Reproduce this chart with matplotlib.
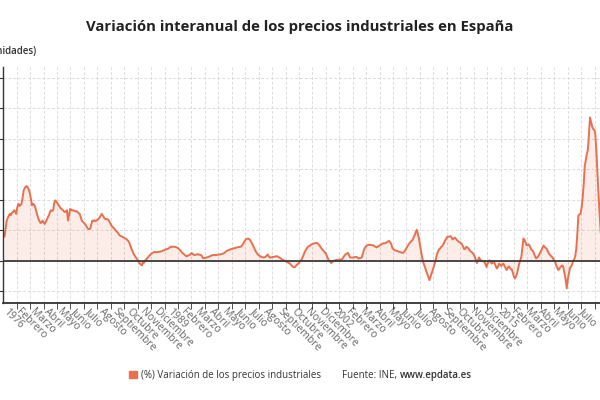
import matplotlib
matplotlib.use("Agg")
import matplotlib.pyplot as plt
from matplotlib.patches import Patch
from matplotlib.transforms import ScaledTranslation
import numpy as np

plt.rcParams['font.family'] = ['Open Sans', 'DejaVu Sans']

title = "Variación interanual de los precios industriales en España"
unit_label = "(unidades)"
series_name = "(%) Variación de los precios industriales"
source_plain = "Fuente: INE, "
source_bold = "www.epdata.es"

start_year = 1976
month_names = ["Enero", "Febrero", "Marzo", "Abril", "Mayo", "Junio", "Julio",
               "Agosto", "Septiembre", "Octubre", "Noviembre", "Diciembre"]

# monthly year-on-year variation (%), from January 1976
pct_1976_1985 = [
    8.0, 10.5, 13.2, 14.0, 14.8, 15.4, 15.0, 15.8, 16.0, 16.6, 16.2, 15.4,
    17.5, 18.7, 18.0, 18.2, 18.7, 20.5, 23.0, 23.8, 24.3, 24.5, 24.0, 23.2,
    22.0, 20.0, 18.2, 18.7, 18.4, 17.6, 16.2, 15.0, 13.8, 13.0, 12.4, 12.6,
    13.2, 12.6, 12.1, 12.8, 13.5, 14.3, 15.0, 16.0, 16.6, 16.4, 16.6, 19.0,
    19.8, 19.4, 18.9, 18.3, 17.8, 17.2, 17.0, 16.7, 16.3, 16.0, 16.2, 16.6,
    13.2, 15.0, 17.0, 16.8, 16.5, 16.6, 16.4, 16.2, 16.3, 16.0, 15.7, 15.4,
    14.4, 13.2, 12.8, 12.5, 12.1, 11.6, 11.0, 10.5, 10.4, 10.5, 11.8, 13.2,
    13.0, 13.3, 13.0, 13.2, 13.5, 13.8, 14.3, 14.8, 15.4, 14.8, 14.2, 13.8,
    13.6, 13.7, 13.5, 13.0, 12.3, 11.6, 11.2, 10.8, 10.5, 10.0, 9.6, 9.3,
    8.8, 8.3, 8.1, 8.0, 7.8, 7.6, 7.4, 7.2, 6.9, 6.5, 6.0, 5.0,
]
pct_1986_1995 = [
    4.0, 3.2, 2.4, 1.8, 1.2, 0.8, 0.2, -0.4, -0.9, -1.2, -1.5, -0.3,
    -0.6, 0.1, 0.5, 0.9, 1.3, 1.7, 2.0, 2.4, 2.6, 2.8, 2.9, 2.9,
    2.8, 2.9, 3.0, 3.0, 3.1, 3.2, 3.4, 3.5, 3.7, 3.8, 3.9, 4.0,
    4.3, 4.6, 4.5, 4.7, 4.6, 4.6, 4.5, 4.4, 4.2, 3.9, 3.5, 3.1,
    2.7, 2.4, 2.1, 1.8, 1.5, 1.6, 1.8, 1.9, 2.2, 2.6, 2.3, 2.0,
    1.9, 2.0, 2.1, 2.2, 2.0, 2.0, 1.9, 1.4, 0.8, 0.9, 1.0, 1.1,
    1.2, 1.3, 1.5, 1.6, 1.8, 1.9, 1.9, 1.9, 1.9, 2.0, 2.0, 2.1,
    2.1, 2.2, 2.3, 2.4, 2.6, 2.9, 3.2, 3.4, 3.5, 3.7, 3.8, 3.9,
    4.0, 4.1, 4.2, 4.3, 4.4, 4.5, 4.5, 4.6, 4.7, 5.2, 5.7, 6.4,
    6.9, 7.2, 7.3, 7.2, 7.0, 6.4, 5.8, 5.1, 4.4, 3.6, 2.9, 2.4,
]
pct_1996_2005 = [
    2.0, 1.7, 1.5, 1.3, 1.2, 1.1, 1.2, 1.3, 1.7, 2.1, 1.5, 1.1,
    1.1, 1.2, 1.3, 1.3, 1.4, 1.5, 1.5, 1.3, 1.1, 0.9, 0.6, 0.4,
    0.2, 0.0, -0.2, -0.3, -0.5, -0.7, -0.9, -1.3, -1.7, -2.0, -2.1, -2.0,
    -1.5, -1.2, -0.9, -0.5, 0.0, 0.4, 1.2, 2.0, 2.9, 3.5, 4.1, 4.6,
    4.8, 5.0, 5.3, 5.5, 5.6, 5.7, 5.8, 5.9, 5.8, 5.4, 5.1, 4.5,
    4.0, 3.6, 3.2, 2.8, 2.4, 1.6, 0.8, 0.0, -0.3, -0.7, -0.4, 0.0,
    0.1, 0.2, 0.3, 0.3, 0.4, 0.4, 0.4, 0.4, 0.9, 1.4, 1.9, 2.2,
    2.4, 2.6, 1.8, 1.1, 1.1, 1.1, 1.1, 1.2, 1.3, 1.3, 1.0, 0.8,
    0.9, 1.0, 1.1, 2.3, 3.5, 4.3, 4.8, 5.0, 5.2, 5.3, 5.2, 5.2,
    5.1, 5.1, 4.8, 4.6, 4.4, 4.6, 4.8, 5.1, 5.3, 5.5, 5.7, 5.8,
]
pct_2006_2015 = [
    5.8, 5.9, 6.2, 6.4, 6.5, 6.0, 5.4, 4.2, 3.8, 3.5, 3.4, 3.3,
    3.2, 3.0, 2.9, 2.8, 2.7, 2.6, 2.9, 3.4, 4.0, 4.6, 5.2, 5.7,
    6.1, 6.5, 6.8, 7.6, 8.4, 9.3, 10.2, 9.0, 7.5, 5.4, 3.3, 1.5,
    -0.3, -1.3, -2.2, -3.3, -4.3, -5.4, -6.3, -5.3, -4.2, -3.2, -2.1, -1.0,
    0.4, 1.8, 3.0, 3.7, 4.0, 4.5, 4.8, 5.3, 6.0, 6.8, 7.3, 7.9,
    7.9, 8.0, 8.1, 7.6, 7.0, 7.3, 7.6, 7.3, 6.8, 6.5, 6.2, 6.0,
    5.8, 5.3, 4.6, 3.8, 4.0, 4.6, 4.4, 4.0, 3.5, 3.1, 2.8, 2.6,
    2.0, 1.3, 0.3, -0.7, 0.2, 1.1, 0.5, 0.0, 0.0, -0.2, -0.3, -1.0,
    -2.0, -1.0, -0.2, 0.2, -0.4, -0.9, -0.6, -0.3, -1.0, -2.0, -2.5, -1.8,
    -0.9, -1.3, -1.7, -1.2, -0.9, -1.6, -2.3, -3.0, -2.4, -1.8, -2.2, -2.7,
]
pct_2016_2023 = [
    -2.8, -4.0, -5.2, -5.8, -5.0, -4.1, -2.5, -0.9, 0.2, 1.3, 4.3, 7.3,
    6.9, 6.0, 5.1, 5.2, 5.4, 4.8, 4.0, 3.5, 3.3, 2.4, 1.5, 0.8,
    1.1, 1.5, 2.1, 2.8, 3.5, 4.3, 5.0, 4.6, 4.2, 4.0, 3.2, 2.5,
    2.0, 1.6, 1.3, 0.8, 0.2, -0.3, -1.5, -2.2, -3.0, -2.6, -2.0, -1.7,
    -1.5, -2.5, -4.5, -6.3, -9.0, -6.0, -4.1, -2.5, -1.8, -1.3, 0.0, 0.5,
    1.5, 4.0, 9.0, 14.9, 15.2, 15.5, 17.5, 20.5, 25.0, 31.0, 33.0, 35.0,
    36.5, 41.5, 47.0, 45.5, 44.0, 43.2, 43.0, 41.6, 36.0, 29.0, 22.0, 16.0,
    10.0, 6.0,
]

values = np.array(pct_1976_1985 + pct_1986_1995 + pct_1996_2005
                  + pct_2006_2015 + pct_2016_2023)
months = np.arange(len(values))

# category labels every 13 months
label_pos = np.arange(0, 547, 13)
label_txt = [str(start_year + p // 12) if p % 12 == 0 else month_names[p % 12]
             for p in label_pos]
# grid / tick mark positions
grid_pos = 11.45 + 12.719 * np.arange(44)

line_color = "#e8704f"
fill_color = "#e8704f"

fig = plt.figure(figsize=(6, 4), dpi=100)
ax = fig.add_axes([3 / 600, (400 - 303.3) / 400, 614.5 / 600, (303.3 - 66.7) / 400])

ax.fill_between(months, values, 0, color=fill_color, alpha=0.12, lw=0)
ax.plot(months, values, color=line_color, lw=1.4, solid_joinstyle='round')
ax.axhline(0, color="#3a3a3a", lw=1.3, zorder=3)

ax.set_xlim(-1.5, 580)
ax.set_ylim(-13.9, 63.6)

ax.set_yticks(np.arange(-10, 61, 10))
ax.tick_params(axis='y', length=4, color="#333333", labelleft=False)
ax.grid(axis='y', color="#dcdcdc", lw=0.7, ls=(0, (3, 2)))

ax.set_xticks(label_pos)
ax.set_xticklabels(label_txt)
ax.set_xticks(grid_pos, minor=True)
ax.tick_params(axis='x', which='major', length=0, pad=6.3, labelsize=7.5, labelcolor="#666666")
ax.tick_params(axis='x', which='minor', length=4, color="#333333")
ax.grid(axis='x', which='minor', color="#dcdcdc", lw=0.7, ls=(0, (3, 2)))
ax.grid(axis='x', which='major', visible=False)
offset = ScaledTranslation(-2 / 100, 0, fig.dpi_scale_trans)
for lab in ax.get_xticklabels():
    lab.set_rotation(-45)
    lab.set_ha('left')
    lab.set_va('baseline')
    lab.set_rotation_mode('anchor')
    lab.set_transform(lab.get_transform() + offset)

for side in ("top", "right"):
    ax.spines[side].set_visible(False)
ax.spines["left"].set_color("#333333")
ax.spines["left"].set_linewidth(1.0)
ax.spines["bottom"].set_color("#333333")
ax.spines["bottom"].set_linewidth(1.3)
ax.set_axisbelow(True)

fig.text(0.5, 1 - 27 / 400, title, ha='center', va='center', fontsize=10.7,
         weight='bold', color="#222222")
fig.text(37 / 600, 1 - 52 / 400, unit_label, ha='right', va='center', fontsize=7,
         weight='semibold', color="#333333")

fig.legend(handles=[Patch(color=line_color, label=series_name)],
           loc='center left', bbox_to_anchor=(129 / 600, 1 - 375.5 / 400),
           frameon=False, fontsize=7, handlelength=0.8, handleheight=0.8,
           handletextpad=0.4, borderpad=0, borderaxespad=0, labelcolor="#333333")
fig.text(342 / 600, 1 - 375.5 / 400, source_plain, ha='left', va='center',
         fontsize=7, color="#333333")
fig.text(400 / 600, 1 - 375.5 / 400, source_bold, ha='left', va='center',
         fontsize=7, weight='semibold', color="#333333")

fig.savefig("out.png", dpi=100)
